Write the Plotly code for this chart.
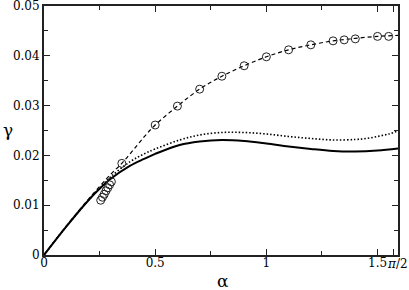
import math
import plotly.graph_objects as go

# Solid curve
solid_a = [0, 0.1, 0.2, 0.25, 0.3, 0.386, 0.45, 0.5, 0.61, 0.7, 0.8, 0.9, 1.0, 1.1, 1.2, 1.3, 1.4, 1.5, 1.592]
solid_g = [0, 0.0057, 0.0110, 0.0133, 0.0153, 0.0179, 0.0193, 0.0203, 0.0221, 0.0228, 0.0231, 0.0229, 0.0224, 0.0218, 0.0213, 0.0209, 0.0208, 0.0210, 0.0214]

# Dotted curve
dot_a = [0, 0.1, 0.2, 0.25, 0.3, 0.386, 0.45, 0.5, 0.61, 0.7, 0.8, 0.9, 1.0, 1.1, 1.2, 1.3, 1.4, 1.45, 1.5, 1.55, 1.592]
dot_g = [0, 0.0057, 0.0110, 0.0134, 0.0157, 0.0187, 0.0203, 0.0213, 0.0231, 0.0241, 0.0246, 0.0246, 0.0243, 0.0238, 0.0234, 0.0231, 0.0232, 0.0234, 0.0238, 0.0243, 0.0249]

# Dashed curve
dash_a = [0, 0.1, 0.2, 0.3, 0.35, 0.4, 0.45, 0.5, 0.6, 0.7, 0.8, 0.9, 1.0, 1.1, 1.2, 1.3, 1.4, 1.5, 1.592]
dash_g = [0, 0.0058, 0.0112, 0.0162, 0.0184, 0.0210, 0.0237, 0.0261, 0.0299, 0.0333, 0.0359, 0.0380, 0.0398, 0.0412, 0.0422, 0.0430, 0.0435, 0.0439, 0.0441]

# Circles
circ_a = [0.255, 0.263, 0.271, 0.279, 0.287, 0.295, 0.303, 0.35, 0.5, 0.6, 0.7, 0.8, 0.9, 1.0, 1.1, 1.2, 1.3, 1.35, 1.4, 1.5, 1.55]
circ_g = [0.0110, 0.0116, 0.0122, 0.0129, 0.0135, 0.0141, 0.0147, 0.0184, 0.0261, 0.0299, 0.0333, 0.0359, 0.0380, 0.0398, 0.0412, 0.0422, 0.0430, 0.0432, 0.0434, 0.0439, 0.0439]

x_tickvals = [0, 0.5, 1, 1.5, math.pi / 2]
x_ticktext = ["0", "0.5", "1", "1.5", ""]
pi_label = "<i>π</i>/2"
y_tickvals = [0, 0.01, 0.02, 0.03, 0.04, 0.05]
y_ticktext = ["0", "0.01", "0.02", "0.03", "0.04", "0.05"]

FONT = "DejaVu Serif"

fig = go.Figure()
fig.add_trace(go.Scatter(x=solid_a, y=solid_g, mode="lines", line=dict(color="black", width=2, shape="spline"), hoverinfo="skip"))
fig.add_trace(go.Scatter(x=dot_a, y=dot_g, mode="lines", line=dict(color="black", width=1.6, dash="1.5px,2px", shape="spline"), hoverinfo="skip"))
fig.add_trace(go.Scatter(x=dash_a, y=dash_g, mode="lines", line=dict(color="black", width=1.2, dash="4px,3px", shape="spline"), hoverinfo="skip"))
fig.add_trace(go.Scatter(x=circ_a, y=circ_g, mode="markers",
                         marker=dict(symbol="circle-open", size=8, color="#222", line=dict(width=1)), hoverinfo="skip"))

axis_common = dict(
    showgrid=False, zeroline=False, showline=True, linecolor="#222", linewidth=2,
    mirror="allticks", ticks="inside", ticklen=6, tickwidth=1.2, tickcolor="#222",
    tickfont=dict(family=FONT, size=12, color="black"), automargin=False,
    ticklabeloverflow="allow",
)

fig.update_xaxes(range=[0, 1.592], tickmode="array", tickvals=x_tickvals, ticktext=x_ticktext,
                 tickangle=0, ticklabelstandoff=-4,
                 minor=dict(tickvals=[0.25, 0.75, 1.25], ticks="inside", ticklen=4, tickwidth=1.2, tickcolor="#222"),
                 **axis_common)
fig.update_yaxes(range=[0, 0.05], tickmode="array", tickvals=y_tickvals, ticktext=y_ticktext,
                 minor=dict(tickvals=[0.005, 0.015, 0.025, 0.035, 0.045], ticks="inside", ticklen=4, tickwidth=1.2, tickcolor="#222"),
                 **axis_common)

L, R, T, B = 44, 11, 6, 35
pw = 409 - L - R
ph = 290 - T - B

fig.update_layout(
    width=409, height=290,
    margin=dict(l=L, r=R, t=T, b=B),
    paper_bgcolor="white", plot_bgcolor="white",
    showlegend=False,
    font=dict(family=FONT, color="black"),
    annotations=[
        dict(text="γ", x=(8 - L) / pw, y=(255 - 130) / ph, xref="paper", yref="paper", showarrow=False,
             xanchor="center", yanchor="middle", font=dict(family=FONT, size=17, color="black")),
        dict(text="α", x=(223 - L) / pw, y=(255 - 281) / ph, xref="paper", yref="paper", showarrow=False,
             xanchor="center", yanchor="middle", font=dict(family=FONT, size=17, color="black")),
        dict(text=pi_label, x=math.pi / 2, xref="x", y=(255 - 264) / ph, yref="paper", showarrow=False,
             xanchor="left", xshift=-8, yanchor="middle", font=dict(family=FONT, size=12, color="black")),
    ],
)

fig.write_html("out.html", config={"displayModeBar": False},
               post_script="document.body.style.margin='0px';document.body.style.padding='0px';")
